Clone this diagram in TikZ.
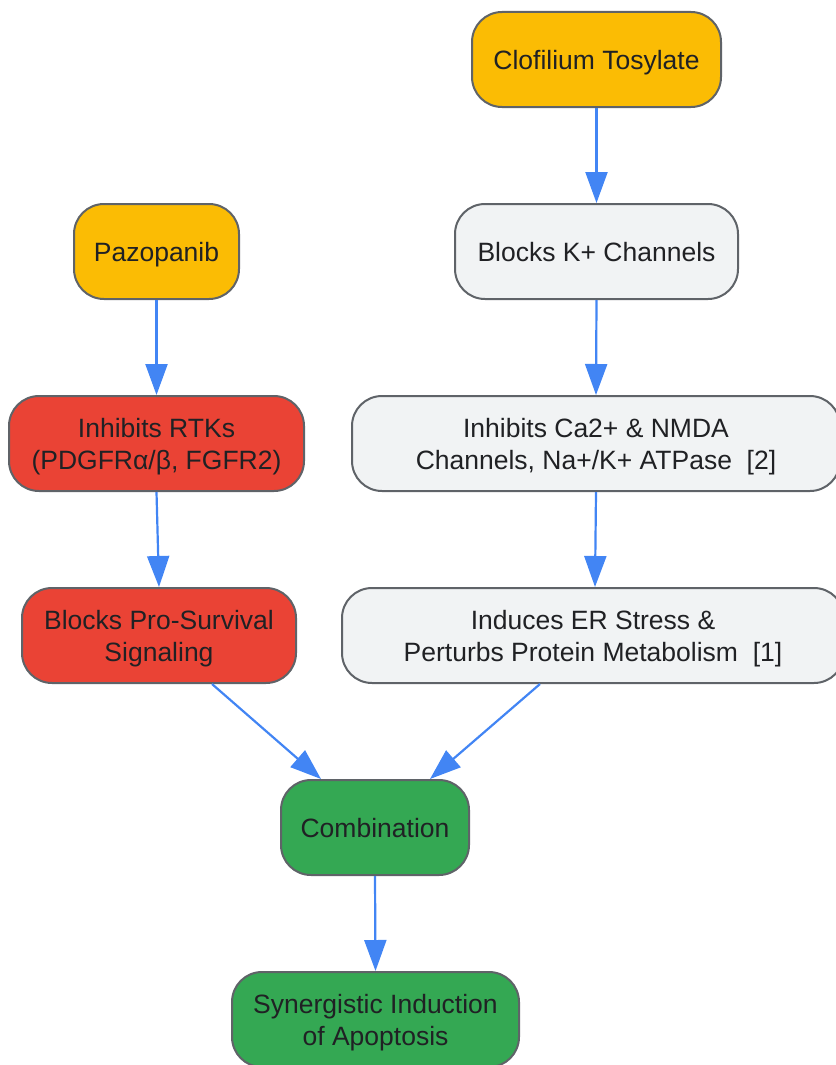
\documentclass[tikz,border=0pt]{standalone}
\usepackage{fontspec}
\setmainfont{Liberation Sans}
\usetikzlibrary{arrows.meta,calc}
\definecolor{cyel}{HTML}{FBBC04}
\definecolor{cred}{HTML}{EA4335}
\definecolor{cgrn}{HTML}{34A853}
\definecolor{cgry}{HTML}{F1F3F4}
\definecolor{cbrd}{HTML}{5F6368}
\definecolor{carr}{HTML}{4285F4}
\definecolor{ctxt}{HTML}{202124}
\tikzset{
  box/.style={draw=cbrd, line width=2pt, rounded corners=30pt, minimum height=95pt,
    inner sep=0pt, align=center, text=ctxt, text depth=0pt,
    font=\fontsize{26.5}{32}\selectfont},
  ybox/.style={box, fill=cyel},
  rbox/.style={box, fill=cred},
  gbox/.style={box, fill=cgrn},
  wbox/.style={box, fill=cgry},
  link/.style={draw=carr, line width=2.2pt, -{Triangle[length=31pt,width=22pt]}}
}
\begin{document}
\begin{tikzpicture}[x=1pt,y=-1pt]
\useasboundingbox (0,0) rectangle (835,1065);
\node[ybox, minimum width=249pt] (clo) at (596.5,59.5) {Clofilium Tosylate};
\node[ybox, minimum width=165pt] (paz) at (156.5,251.5) {Pazopanib};
\node[wbox, minimum width=283pt] (blk) at (596.5,251.5) {Blocks K+ Channels};
\node[rbox, minimum width=295pt] (rtk) at (156.5,443.5) {Inhibits RTKs\\(PDGFRα/β, FGFR2)};
\node[wbox, minimum width=488pt] (cah) at (596,443.5) {Inhibits Ca2+ \& NMDA\\Channels, Na+/K+ ATPase~~[2]};
\node[rbox, minimum width=274pt] (pro) at (159,635.5) {Blocks Pro-Survival\\Signaling};
\node[wbox, minimum width=502pt] (ers) at (593,635.5) {Induces ER Stress \&\\Perturbs Protein Metabolism~~[1]};
\node[gbox, minimum width=188pt] (com) at (375,827.5) {Combination};
\node[gbox, minimum width=287pt] (syn) at (375.5,1019.5) {Synergistic Induction\\of Apoptosis};
\draw[link] (clo.south) -- (blk.north);
\draw[link] (paz.south) -- (rtk.north);
\draw[link] (blk.south) -- (cah.north);
\draw[link] (rtk.south) -- (pro.north);
\draw[link] (cah.south) -- ($(ers.north)+(2,0)$);
\draw[link] ($(pro.south)+(53,0)$) -- ($(com.north)+(-54,0)$);
\draw[link] ($(ers.south)+(-53,0)$) -- ($(com.north)+(55,0)$);
\draw[link] (com.south) -- (syn.north);
\end{tikzpicture}
\end{document}
